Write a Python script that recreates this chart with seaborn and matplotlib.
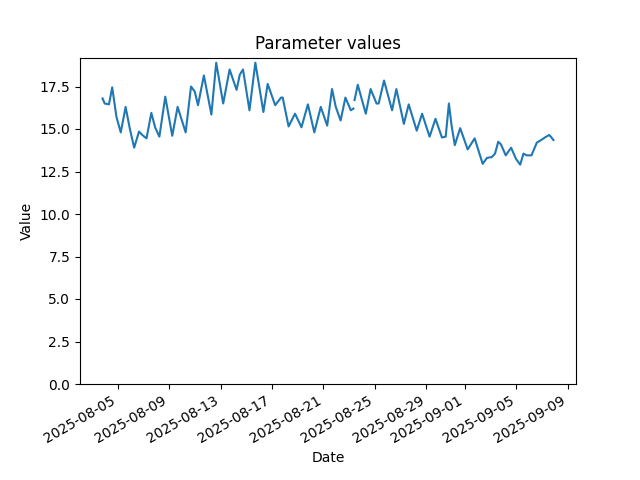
import numpy as np
import pandas as pd
import matplotlib
matplotlib.use("Agg")
import matplotlib.pyplot as plt
import seaborn as sns

# --- data (peaks / troughs of the series) ---
times = [
    "2025-08-03 20:00", "2025-08-04 00:00", "2025-08-04 08:00", "2025-08-04 14:00",
    "2025-08-04 22:00", "2025-08-05 06:00", "2025-08-05 15:00", "2025-08-05 23:00",
    "2025-08-06 07:00", "2025-08-06 16:00", "2025-08-06 22:00", "2025-08-07 06:00",
    "2025-08-07 15:00", "2025-08-07 22:00", "2025-08-08 06:00", "2025-08-08 17:00",
    "2025-08-09 06:00", "2025-08-09 16:00", "2025-08-10 07:00", "2025-08-10 17:00",
    "2025-08-11 00:00", "2025-08-11 06:00", "2025-08-11 17:00", "2025-08-12 07:00",
    "2025-08-12 16:00", "2025-08-13 05:00", "2025-08-13 17:00", "2025-08-14 06:00",
    "2025-08-14 12:00", "2025-08-14 18:00", "2025-08-15 06:00", "2025-08-15 17:00",
    "2025-08-16 08:00", "2025-08-16 16:00", "2025-08-17 06:00", "2025-08-17 17:00",
    "2025-08-17 20:00", "2025-08-18 07:00", "2025-08-18 19:00", "2025-08-19 07:00",
    "2025-08-19 19:00", "2025-08-20 07:00", "2025-08-20 19:00", "2025-08-21 07:00",
    "2025-08-21 16:00", "2025-08-21 23:00", "2025-08-22 08:00", "2025-08-22 17:00",
    "2025-08-23 03:00", "2025-08-23 08:00",
    # second segment (after the short gap)
    "2025-08-23 10:00", "2025-08-23 16:00", "2025-08-24 07:00", "2025-08-24 16:00",
    "2025-08-25 03:00", "2025-08-25 07:00", "2025-08-25 17:00", "2025-08-26 08:00",
    "2025-08-26 16:00", "2025-08-27 06:00", "2025-08-27 15:00", "2025-08-28 06:00",
    "2025-08-28 16:00", "2025-08-29 06:00", "2025-08-29 17:00", "2025-08-30 05:00",
    "2025-08-30 12:00", "2025-08-30 18:00", "2025-08-30 23:00", "2025-08-31 05:00",
    "2025-08-31 15:00", "2025-09-01 05:00", "2025-09-01 18:00", "2025-09-02 01:00",
    "2025-09-02 09:00", "2025-09-02 17:00", "2025-09-03 02:00", "2025-09-03 08:00",
    "2025-09-03 14:00", "2025-09-03 19:00", "2025-09-04 04:00", "2025-09-04 14:00",
    "2025-09-04 23:00", "2025-09-05 07:00", "2025-09-05 13:00", "2025-09-05 19:00",
    "2025-09-06 04:00", "2025-09-06 14:00", "2025-09-06 22:00", "2025-09-07 05:00",
    "2025-09-07 13:00", "2025-09-07 16:00", "2025-09-07 21:00",
]
values = [
    16.8, 16.5, 16.45, 17.45, 15.7, 14.8, 16.3, 15.0,
    13.9, 14.85, 14.65, 14.45, 15.95, 15.1, 14.55, 16.9,
    14.6, 16.3, 14.8, 17.5, 17.2, 16.4, 18.15, 15.85,
    18.9, 16.5, 18.5, 17.3, 18.2, 18.5, 16.1, 18.9,
    16.0, 17.65, 16.4, 16.85, 16.85, 15.15, 15.9, 15.1,
    16.45, 14.8, 16.3, 15.2, 17.35, 16.3, 15.5, 16.85,
    16.1, 16.2,
    16.7, 17.6, 15.9, 17.35, 16.5, 16.5, 17.85, 16.1,
    17.35, 15.3, 16.45, 14.9, 15.9, 14.55, 15.6, 14.5,
    14.55, 16.5, 15.2, 14.05, 15.05, 13.8, 14.45, 13.75,
    12.95, 13.3, 13.35, 13.55, 14.25, 14.1, 13.45, 13.9,
    13.25, 12.9, 13.55, 13.45, 13.45, 14.2, 14.35, 14.5,
    14.65, 14.55, 14.35,
]
segment = [0] * 50 + [1] * 43

df = pd.DataFrame({
    "Date": pd.to_datetime(times),
    "Value": values,
    "segment": segment,
})

fig, ax = plt.subplots(figsize=(6.4, 4.8), dpi=100)
sns.lineplot(data=df, x="Date", y="Value", units="segment", estimator=None,
             color="#1f77b4", linewidth=1.5, ax=ax)

ax.set_ylim(bottom=0)
ax.set_title("Parameter values")
ax.set_xlabel("Date")
ax.set_ylabel("Value")
fig.autofmt_xdate()

plt.savefig("out.png", dpi=100)
plt.close()
